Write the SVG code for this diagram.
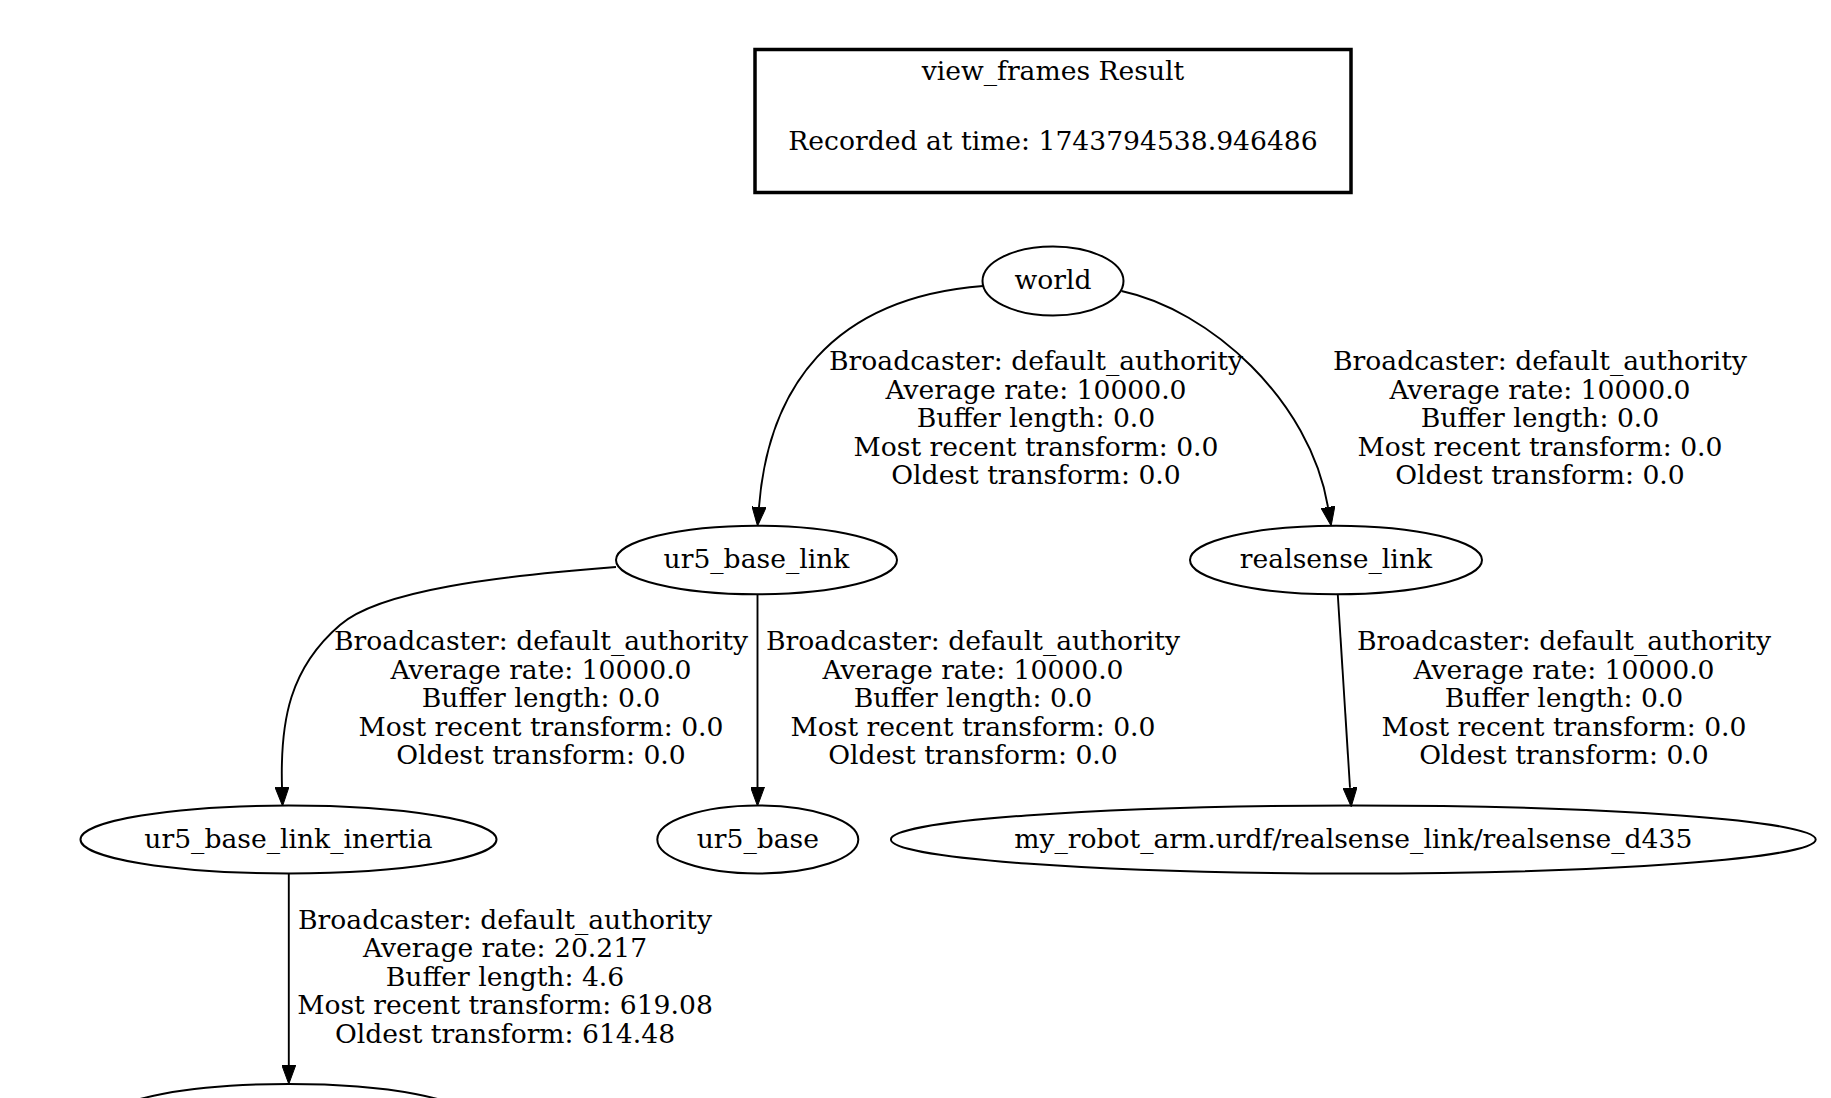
<svg xmlns="http://www.w3.org/2000/svg" width="1831" height="1098" viewBox="0 0 1831 1098">
<style>
text { font-family: "DejaVu Serif", "Liberation Serif", serif; font-size: 26.6px; fill: #000; text-anchor: middle; }
.node ellipse { fill: none; stroke: #000; stroke-width: 2; }
.edge { fill: none; stroke: #000; stroke-width: 1.9; marker-end: url(#arrow); }
</style>
<defs>
<marker id="arrow" viewBox="0 0 19 14" refX="0" refY="7" markerWidth="19" markerHeight="14" markerUnits="userSpaceOnUse" orient="auto">
<path d="M0,0 L19,7 L0,14 z" fill="#000" stroke="#000" stroke-width="1"/>
</marker>
</defs>
<rect width="1831" height="1098" fill="#fff"/>

<g id="title">
<rect x="755" y="49.5" width="596" height="143" fill="none" stroke="#000" stroke-width="3.5"/>
<text x="1053" y="80">view_frames Result</text>
<text x="1053" y="150">Recorded at time: 1743794538.946486</text>
</g>

<g id="connectors">
<path class="edge" d="M983,286 C 830,298 768,390 759,507"/>
<g>
<text x="1036" y="370">Broadcaster: default_authority</text>
<text x="1036" y="398.5">Average rate: 10000.0</text>
<text x="1036" y="427">Buffer length: 0.0</text>
<text x="1036" y="455.5">Most recent transform: 0.0</text>
<text x="1036" y="484">Oldest transform: 0.0</text>
</g>
<path class="edge" d="M1121.5,291 C 1210,310 1310,400 1328,507"/>
<g>
<text x="1540" y="370">Broadcaster: default_authority</text>
<text x="1540" y="398.5">Average rate: 10000.0</text>
<text x="1540" y="427">Buffer length: 0.0</text>
<text x="1540" y="455.5">Most recent transform: 0.0</text>
<text x="1540" y="484">Oldest transform: 0.0</text>
</g>
<path class="edge" d="M616,567 C 500,576 380,590 340,625 C 290,668 280,720 282,787"/>
<g>
<text x="541" y="650">Broadcaster: default_authority</text>
<text x="541" y="678.5">Average rate: 10000.0</text>
<text x="541" y="707">Buffer length: 0.0</text>
<text x="541" y="735.5">Most recent transform: 0.0</text>
<text x="541" y="764">Oldest transform: 0.0</text>
</g>
<path class="edge" d="M757.5,594.5 L757.5,787"/>
<g>
<text x="973" y="650">Broadcaster: default_authority</text>
<text x="973" y="678.5">Average rate: 10000.0</text>
<text x="973" y="707">Buffer length: 0.0</text>
<text x="973" y="735.5">Most recent transform: 0.0</text>
<text x="973" y="764">Oldest transform: 0.0</text>
</g>
<path class="edge" d="M1337.8,595 L1350,787.7"/>
<g>
<text x="1564" y="650">Broadcaster: default_authority</text>
<text x="1564" y="678.5">Average rate: 10000.0</text>
<text x="1564" y="707">Buffer length: 0.0</text>
<text x="1564" y="735.5">Most recent transform: 0.0</text>
<text x="1564" y="764">Oldest transform: 0.0</text>
</g>
<path class="edge" d="M288.8,873.5 L288.8,1065"/>
<g>
<text x="505" y="928.5">Broadcaster: default_authority</text>
<text x="505" y="957">Average rate: 20.217</text>
<text x="505" y="985.5">Buffer length: 4.6</text>
<text x="505" y="1014">Most recent transform: 619.08</text>
<text x="505" y="1042.5">Oldest transform: 614.48</text>
</g>
</g>

<g id="world" class="node">
<ellipse cx="1053" cy="281" rx="70.5" ry="34.5"/>
<text x="1053" y="289">world</text>
</g>
<g id="ur5_base_link" class="node">
<ellipse cx="756.5" cy="560" rx="140.5" ry="34.3"/>
<text x="756.5" y="568">ur5_base_link</text>
</g>
<g id="realsense_link" class="node">
<ellipse cx="1336" cy="560" rx="146" ry="34.3"/>
<text x="1336" y="568">realsense_link</text>
</g>
<g id="ur5_base_link_inertia" class="node">
<ellipse cx="288.5" cy="839.5" rx="208" ry="34"/>
<text x="288.5" y="847.5">ur5_base_link_inertia</text>
</g>
<g id="ur5_base" class="node">
<ellipse cx="757.8" cy="839.5" rx="100.5" ry="34"/>
<text x="757.8" y="847.5">ur5_base</text>
</g>
<g id="realsense_d435" class="node">
<ellipse cx="1353.3" cy="839.5" rx="462.4" ry="34"/>
<text x="1353.3" y="847.5">my_robot_arm.urdf/realsense_link/realsense_d435</text>
</g>
<g id="child_of_inertia" class="node">
<ellipse cx="288.8" cy="1118" rx="179" ry="34"/>
</g>
</svg>
